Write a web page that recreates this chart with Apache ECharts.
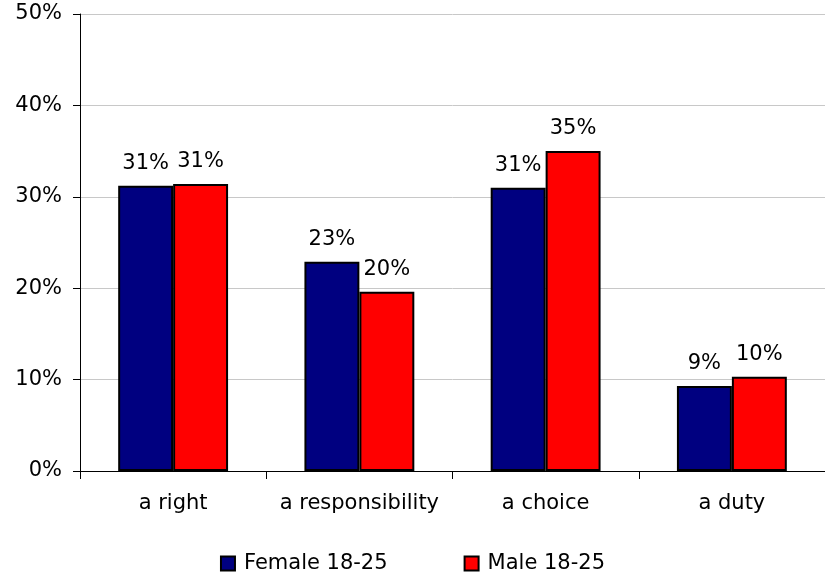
<!DOCTYPE html>
<html>
<head>
<meta charset="utf-8">
<script src="https://cdn.jsdelivr.net/npm/echarts@6/dist/echarts.min.js"></script>
<style>
  html, body { margin: 0; padding: 0; background: #fff; }
  #chart { width: 825px; height: 575px; }
</style>
</head>
<body>
<div id="chart"></div>
<script>
const categories = ['a right', 'a responsibility', 'a choice', 'a duty']
const female = [31.2, 22.9, 31.0, 9.3]
const male = [31.4, 19.6, 35.0, 10.3]
const seriesNames = ['Female 18-25', 'Male 18-25']

const font = 'DejaVu Sans, Verdana, sans-serif'

const chart = echarts.init(document.getElementById('chart'))

const barLabel = {
  show: true,
  position: 'top',
  distance: 12,
  color: '#000',
  fontFamily: font,
  fontSize: 21,
  formatter: p => Math.round(p.value) + '%'
}

chart.setOption({
  animation: false,
  textStyle: { fontFamily: font },
  grid: { left: 80, right: 0, top: 14, bottom: 104 },
  legend: {
    bottom: -4,
    left: 'center',
    itemGap: 76,
    itemWidth: 14,
    itemHeight: 14,
    icon: 'rect',
    itemStyle: { borderColor: '#000', borderWidth: 2 },
    textStyle: { fontFamily: font, fontSize: 21, color: '#000', padding: [0, 0, 0, 4] },
    data: seriesNames
  },
  xAxis: {
    type: 'category',
    data: categories,
    axisLine: { lineStyle: { color: '#000', width: 1 } },
    axisTick: { show: true, length: 8, lineStyle: { color: '#000' } },
    axisLabel: { color: '#000', fontSize: 21, fontFamily: font, margin: 22, interval: 0 }
  },
  yAxis: {
    type: 'value',
    min: 0,
    max: 50,
    interval: 10,
    axisLine: { show: true, lineStyle: { color: '#000', width: 1 } },
    axisTick: { show: true, length: 7, lineStyle: { color: '#000' } },
    axisLabel: { color: '#000', fontSize: 21, fontFamily: font, margin: 18, formatter: '{value}%' },
    splitLine: { lineStyle: { color: '#c8c8c8', width: 1 } }
  },
  series: [
    {
      name: seriesNames[0],
      type: 'bar',
      data: female,
      barGap: 0,
      barCategoryGap: '41%',
      itemStyle: { color: '#000080', borderColor: '#000', borderWidth: 2 },
      label: barLabel
    },
    {
      name: seriesNames[1],
      type: 'bar',
      data: male,
      itemStyle: { color: '#ff0000', borderColor: '#000', borderWidth: 2 },
      label: barLabel
    }
  ]
})
</script>
</body>
</html>
